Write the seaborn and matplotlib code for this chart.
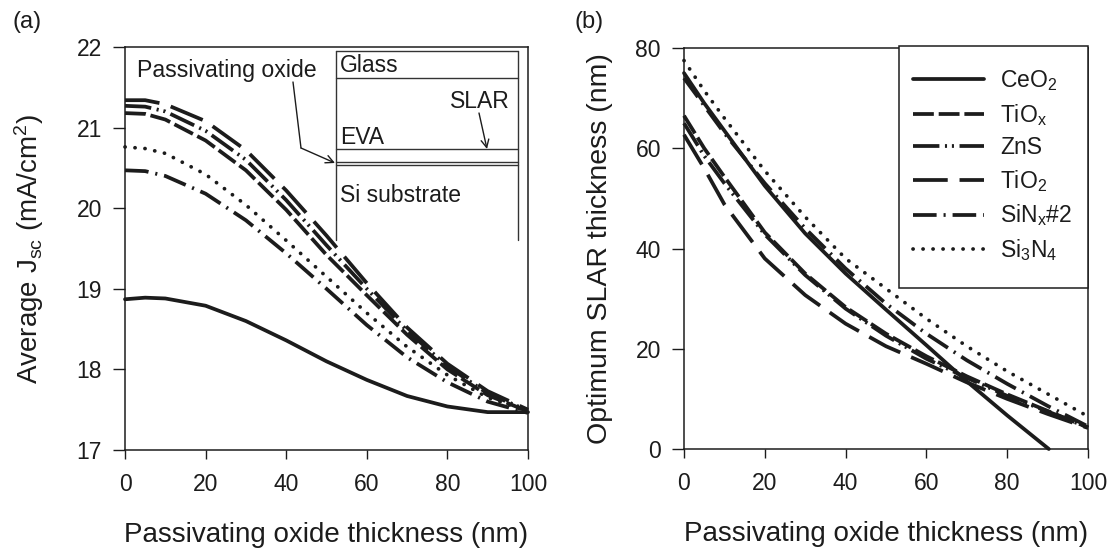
import matplotlib
matplotlib.use("Agg")
import matplotlib.pyplot as plt
from matplotlib.lines import Line2D
from matplotlib.patches import Rectangle
import seaborn as sns

# panel (a): average Jsc
x_a = [0, 5, 10, 20, 30, 40, 50, 60, 70, 80, 90, 100]
jsc_ceo2 = [18.87, 18.89, 18.88, 18.79, 18.6, 18.36, 18.1, 17.87, 17.67, 17.54, 17.47, 17.47]
jsc_tiox = [21.18, 21.17, 21.1, 20.84, 20.47, 19.98, 19.42, 18.92, 18.43, 18.0, 17.68, 17.48]
jsc_zns = [21.27, 21.26, 21.2, 20.96, 20.6, 20.1, 19.54, 19.0, 18.48, 18.04, 17.7, 17.49]
jsc_tio2 = [21.34, 21.34, 21.29, 21.08, 20.72, 20.22, 19.66, 19.07, 18.52, 18.07, 17.73, 17.5]
jsc_sinx = [20.47, 20.46, 20.4, 20.18, 19.85, 19.44, 19.0, 18.55, 18.15, 17.84, 17.6, 17.46]
jsc_si3n4 = [20.76, 20.74, 20.68, 20.42, 20.04, 19.6, 19.15, 18.7, 18.28, 17.93, 17.65, 17.48]

# panel (b): optimum SLAR thickness
x_b = [0, 5, 10, 20, 30, 40, 50, 60, 70, 80, 90, 100]
slar_tiox = [66.5, 60, 54.3, 43.2, 35, 28.3, 23, 18.5, 14.5, 10.9, 7.6, 4.3]
slar_zns = [65, 58.5, 53, 42.8, 34.7, 28, 22.6, 18, 14.2, 10.6, 7.5, 4.3]
slar_tio2 = [62.7, 56, 48.8, 38, 30.7, 25, 20.5, 17, 13.3, 10, 7, 4.2]
slar_sinx = [74, 68.5, 63, 53, 44, 36, 29, 23, 17.7, 13, 8.6, 4.5]
slar_si3n4 = [77.5, 71.5, 66, 55.5, 46.3, 38, 32, 26, 20.5, 15.5, 11, 6.5]
x_ceo2 = [0, 5, 10, 20, 30, 40, 50, 60, 70, 80, 90.3]
slar_ceo2 = [75, 69, 63.5, 52.5, 43, 35, 27.8, 20.7, 13.5, 6.7, 0]

names = ["CeO$_2$", "TiO$_x$", "ZnS", "TiO$_2$", "SiN$_x$#2", "Si$_3$N$_4$"]
styles = [
    "-",
    (0, (15, 3.5)),
    (0, (19, 4, 1.5, 3.5, 1.5, 4)),
    (0, (25, 8.5)),
    (0, (17, 5, 1.5, 5)),
    (0, (0.1, 7.1)),
]
ink = "#1c1c1c"

sns.set_theme(style="ticks")
plt.rcParams["font.family"] = ["Liberation Sans", "DejaVu Sans"]
plt.rcParams["mathtext.fontset"] = "custom"
plt.rcParams["mathtext.rm"] = "Liberation Sans"
plt.rcParams["mathtext.default"] = "regular"
plt.rcParams["lines.scale_dashes"] = False
plt.rcParams["text.color"] = ink
plt.rcParams["axes.labelcolor"] = ink
plt.rcParams["xtick.color"] = ink
plt.rcParams["ytick.color"] = ink

W, H = 1110, 552
fig = plt.figure(figsize=(W / 100, H / 100), dpi=100)


def px(x, y):
    return x / W, 1 - y / H


ax1 = fig.add_axes([125 / W, 1 - 450 / H, 403 / W, 403 / H])
ax2 = fig.add_axes([684 / W, 1 - 449 / H, 404 / W, 401 / H])

series_a = [jsc_ceo2, jsc_tiox, jsc_zns, jsc_tio2, jsc_sinx, jsc_si3n4]
for i, (vals, st) in enumerate(zip(series_a, styles)):
    sns.lineplot(x=x_a, y=vals, ax=ax1, color=ink, lw=2.7, linestyle=st,
                 dash_capstyle="round" if i == 5 else "butt", legend=False, clip_on=False)

series_b = [slar_ceo2, slar_tiox, slar_zns, slar_tio2, slar_sinx, slar_si3n4]
for i, (vals, st) in enumerate(zip(series_b, styles)):
    xs = x_ceo2 if i == 0 else x_b
    sns.lineplot(x=xs, y=vals, ax=ax2, color=ink, lw=2.7, linestyle=st, label=names[i],
                 dash_capstyle="round" if i == 5 else "butt", clip_on=False)

ax1.set_xlim(0, 100)
ax1.set_ylim(17, 22)
ax1.set_yticks([17, 18, 19, 20, 21, 22])
ax2.set_xlim(0, 100)
ax2.set_ylim(0, 80)
ax2.set_yticks([0, 20, 40, 60, 80])

for ax in (ax1, ax2):
    ax.set_xticks([0, 20, 40, 60, 80, 100])
    ax.tick_params(labelsize=16.5, width=1.0)
    ax.tick_params(axis="x", length=6.5, pad=10)
    ax.tick_params(axis="y", length=8.6, pad=8)
    ax.set_xlabel("Passivating oxide thickness (nm)", fontsize=20, labelpad=19)
    for sp in ax.spines.values():
        sp.set_linewidth(1.1)
        sp.set_color(ink)
ax1.set_ylabel("Average J$_{sc}$ (mA/cm$^2$)", fontsize=20, labelpad=22)
ax2.set_ylabel("Optimum SLAR thickness (nm)", fontsize=20.5, labelpad=16)

# legend box and entries are placed separately, the box is wider than the entries need
ax2.add_patch(Rectangle(px(899, 288), 189 / W, 242 / H, transform=fig.transFigure,
                        facecolor="white", edgecolor=ink, lw=1.1, zorder=4, clip_on=False))
leg = ax2.legend(loc="upper left", bbox_to_anchor=px(913, 68), bbox_transform=fig.transFigure,
                 borderaxespad=0, borderpad=0, fontsize=16.5, frameon=False,
                 handlelength=3.1, handletextpad=0.7, labelspacing=0.38)
leg.set_zorder(5)

# inset layer stack drawn over panel (a)
stack = [
    [(336, 51), (518, 51)], [(336, 78), (518, 78)], [(336, 149), (518, 149)],
    [(336, 162), (518, 162)], [(336, 165), (518, 165)],
    [(336, 51), (336, 240)], [(518, 51), (518, 240)],
]
for seg in stack:
    a, b = px(*seg[0]), px(*seg[1])
    fig.add_artist(Line2D([a[0], b[0]], [a[1], b[1]], color="#333333", lw=1.0))

fig.text(*px(137, 71), "Passivating oxide", fontsize=16.7, va="center", ha="left")
fig.text(*px(340, 65), "Glass", fontsize=16.5, va="center", ha="left")
fig.text(*px(450, 101), "SLAR", fontsize=16.5, va="center", ha="left")
fig.text(*px(340, 137), "EVA", fontsize=16.5, va="center", ha="left")
fig.text(*px(340, 195), "Si substrate", fontsize=16.5, va="center", ha="left")

a, b = px(293, 82), px(301, 148)
fig.add_artist(Line2D([a[0], b[0]], [a[1], b[1]], color=ink, lw=1.0))
arrow = dict(arrowstyle="->", color=ink, lw=1.0, shrinkA=0, shrinkB=0, mutation_scale=14)
ax1.annotate("", xy=px(335, 163), xytext=px(301, 148), xycoords="figure fraction",
             textcoords="figure fraction", arrowprops=arrow)
ax1.annotate("", xy=px(487, 149), xytext=px(479, 113), xycoords="figure fraction",
             textcoords="figure fraction", arrowprops=arrow)

fig.text(*px(12, 22), "(a)", fontsize=17, va="center", ha="left")
fig.text(*px(575, 22), "(b)", fontsize=17, va="center", ha="left")

fig.savefig("out.png", dpi=100)
